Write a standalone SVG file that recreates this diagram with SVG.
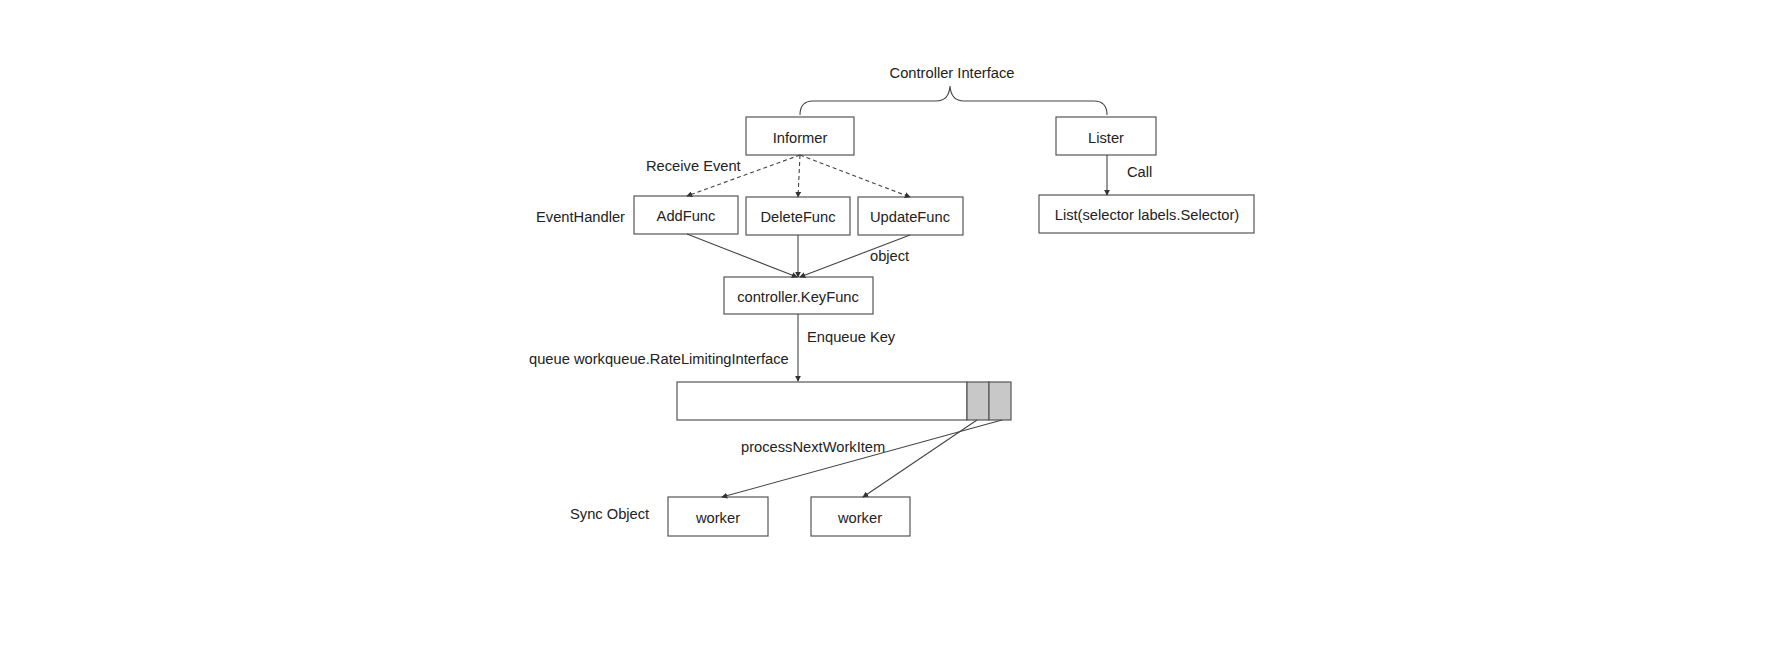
<svg xmlns="http://www.w3.org/2000/svg" width="1786" height="652" viewBox="0 0 1786 652">
<defs>
<style>
.bx{fill:#fff;stroke:#555;stroke-width:1.2}
.t{font-family:"Liberation Sans",Arial,sans-serif;font-size:14.7px;fill:#222}
.c{text-anchor:middle}
.ln{fill:none;stroke:#444;stroke-width:1.1}
.ds{fill:none;stroke:#444;stroke-width:1.1;stroke-dasharray:4 3}
.cell{fill:#c8c8c8;stroke:#555;stroke-width:1.2}
</style>
<marker id="ah" viewBox="0 0 8 8" refX="7" refY="4" markerWidth="6" markerHeight="6" orient="auto" markerUnits="userSpaceOnUse">
<path d="M0,0 L8,4 L0,8 z" fill="#333"/>
</marker>
</defs>
<rect width="1786" height="652" fill="#fff"/>

<g id="controller-interface">
<path class="ln" d="M800,115 Q800,101 813,101 L936,101 Q949,101 950,86 Q951,101 964,101 L1094,101 Q1107,101 1107,115"/>
<text class="t c" x="952" y="78">Controller Interface</text>
</g>

<g id="informer"><rect class="bx" x="746" y="117" width="108" height="38"/><text class="t c" x="800" y="143">Informer</text></g>
<g id="lister"><rect class="bx" x="1056" y="117" width="100" height="38"/><text class="t c" x="1106" y="143">Lister</text></g>
<g id="addfunc"><rect class="bx" x="634" y="196" width="104" height="38"/><text class="t c" x="686" y="221">AddFunc</text></g>
<g id="deletefunc"><rect class="bx" x="746" y="197" width="104" height="38"/><text class="t c" x="798" y="222">DeleteFunc</text></g>
<g id="updatefunc"><rect class="bx" x="858" y="197" width="105" height="38"/><text class="t c" x="910" y="222">UpdateFunc</text></g>
<g id="list"><rect class="bx" x="1039" y="195" width="215" height="38"/><text class="t c" x="1147" y="220">List(selector labels.Selector)</text></g>
<g id="keyfunc"><rect class="bx" x="724" y="277" width="149" height="37"/><text class="t c" x="798" y="302">controller.KeyFunc</text></g>
<g id="queue">
<rect class="bx" x="677" y="382" width="290" height="38"/>
<rect class="cell" x="967" y="382" width="22" height="38"/>
<rect class="cell" x="989" y="382" width="22" height="38"/>
</g>
<g id="worker1"><rect class="bx" x="668" y="497" width="100" height="39"/><text class="t c" x="718" y="523">worker</text></g>
<g id="worker2"><rect class="bx" x="811" y="497" width="99" height="39"/><text class="t c" x="860" y="523">worker</text></g>

<g id="labels">
<text class="t" x="646" y="171">Receive Event</text>
<text class="t" x="536" y="222">EventHandler</text>
<text class="t" x="1127" y="177">Call</text>
<text class="t" x="870" y="261">object</text>
<text class="t" x="807" y="342">Enqueue Key</text>
<text class="t" x="529" y="364">queue workqueue.RateLimitingInterface</text>
<text class="t" x="741" y="452">processNextWorkItem</text>
<text class="t" x="570" y="519">Sync Object</text>
</g>

<g id="connectors">
<line class="ds" x1="800" y1="155" x2="687" y2="196" marker-end="url(#ah)"/>
<line class="ds" x1="800" y1="155" x2="798" y2="197" marker-end="url(#ah)"/>
<line class="ds" x1="800" y1="155" x2="910" y2="197" marker-end="url(#ah)"/>
<line class="ln" x1="1107" y1="155" x2="1107" y2="195" marker-end="url(#ah)"/>
<line class="ln" x1="687" y1="234" x2="797" y2="277" marker-end="url(#ah)"/>
<line class="ln" x1="798" y1="235" x2="798" y2="277" marker-end="url(#ah)"/>
<line class="ln" x1="910" y1="235" x2="800" y2="277" marker-end="url(#ah)"/>
<line class="ln" x1="798" y1="314" x2="798" y2="381" marker-end="url(#ah)"/>
<line class="ln" x1="977" y1="420" x2="863" y2="497" marker-end="url(#ah)"/>
<line class="ln" x1="1002" y1="420" x2="722" y2="497" marker-end="url(#ah)"/>
</g>
</svg>
